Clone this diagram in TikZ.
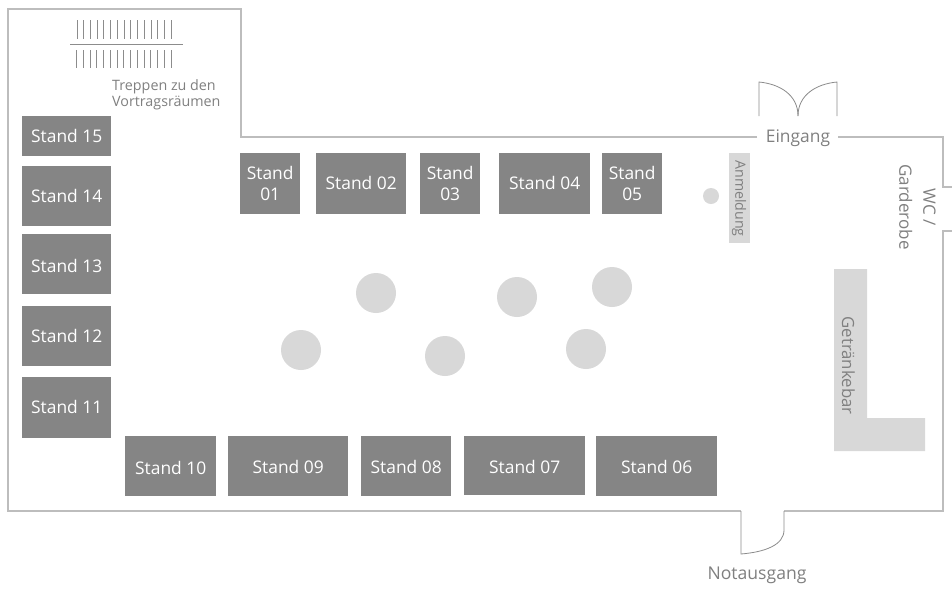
\documentclass[tikz,border=0pt]{standalone}
\usepackage{fontspec}
\setmainfont{Open Sans}
\definecolor{standgray}{HTML}{858585}
\definecolor{lightfill}{HTML}{D8D8D8}
\definecolor{wallgray}{HTML}{BDBDBD}
\definecolor{thin}{HTML}{8C8C8C}
\definecolor{labelgray}{HTML}{808080}
\tikzset{
  stand/.style={fill=standgray,text=white,font=\fontsize{17.4}{21.5}\selectfont,align=center,inner sep=0pt,anchor=north west},
  wall/.style={draw=wallgray,line width=1.5pt},
  thinline/.style={draw=thin,line width=0.8pt},
  tisch/.style={circle,fill=lightfill,inner sep=0pt},
  plabel/.style={text=labelgray,align=center,inner sep=0pt}
}
\newcommand{\standbox}[6]{\node[stand,minimum width=#3pt,minimum height=#4pt] (#5) at (#1,#2) {#6};}
\newcommand{\shifted}[2]{\raisebox{#1pt}[\height][\depth]{#2}}
\begin{document}
\begin{tikzpicture}[x=1pt,y=-1pt]
\useasboundingbox (0,0) rectangle (952,590);
\fill[white] (0,0) rectangle (952,590);
% walls
\draw[wall,line join=miter] (757,137) -- (241,137) -- (241,9) -- (8,9) -- (8,511) -- (741,511);
\draw[wall] (784,511) -- (943,511) -- (943,231) -- (952,231);
\draw[wall] (838,137) -- (943,137) -- (943,187) -- (952,187);
% doors
\draw[thinline] (759,116) -- (759,82) .. controls (780,84) and (798,95) .. (798,116);
\draw[thinline] (837,116) -- (837,82) .. controls (816,84) and (798,95) .. (798,116);
\draw[thinline] (741,511) -- (741,554) .. controls (765,552) and (784,545) .. (784,530) -- (784,511);
% stairs
\foreach \i in {0,...,14} {
  \draw[thinline] ({77+\i*6.72},20) -- ({77+\i*6.72},39);
  \draw[thinline] ({76.5+\i*6.76},50) -- ({76.5+\i*6.76},68);
}
\draw[thinline] (70,44) -- (183,44);
% stands
\standbox{22}{116}{89}{40}{s15}{\shifted{0.7}{Stand 15}}
\standbox{22}{166}{89}{60}{s14}{Stand 14}
\standbox{22}{234}{89}{60}{s13}{\shifted{-2}{Stand 13}}
\standbox{22}{306}{89}{60}{s12}{Stand 12}
\standbox{22}{377}{89}{61}{s11}{\shifted{0.7}{Stand 11}}
\standbox{125}{436}{91}{60}{s10}{\shifted{-2}{Stand 10}}
\standbox{228}{436}{120}{60}{s09}{\shifted{-1.2}{Stand 09}}
\standbox{361}{436}{90}{60}{s08}{\shifted{-1.2}{Stand 08}}
\standbox{464}{436}{121}{59}{s07}{\shifted{-1.2}{Stand 07}}
\standbox{596}{436}{121}{60}{s06}{\shifted{-1.2}{Stand 06}}
\standbox{240}{153}{60}{61}{s01}{Stand\\01}
\standbox{316}{153}{90}{61}{s02}{\shifted{0.7}{Stand 02}}
\standbox{420}{153}{60}{61}{s03}{Stand\\03}
\standbox{499}{153}{91}{61}{s04}{\shifted{0.7}{Stand 04}}
\standbox{602}{153}{60}{61}{s05}{Stand\\05}
% tables
\node[tisch,minimum size=40pt] (t1) at (301,350) {};
\node[tisch,minimum size=40pt] (t2) at (376,293) {};
\node[tisch,minimum size=40pt] (t3) at (445,356) {};
\node[tisch,minimum size=40pt] (t4) at (517,297) {};
\node[tisch,minimum size=40pt] (t5) at (586,349) {};
\node[tisch,minimum size=40pt] (t6) at (612,287) {};
\node[tisch,minimum size=16pt] (t7) at (711,196) {};
% Anmeldung
\node[fill=lightfill,minimum width=21pt,minimum height=90pt,inner sep=0pt,anchor=north west] (anm) at (729,153) {};
\node[plabel,rotate=-90,font=\fontsize{14.2}{16}\selectfont] (anmt) at (739,198.5) {Anmeldung};
% Bar
\fill[lightfill] (834,269) -- (867,269) -- (867,418) -- (925,418) -- (925,451) -- (834,451) -- cycle;
\node[plabel,rotate=-90,font=\fontsize{16.8}{18}\selectfont] (bar) at (848.5,365.5) {Getränkebar};
% labels
\node[plabel,font=\fontsize{14.3}{16.6}\selectfont,align=left,anchor=north west] (trep) at (112,79) {Treppen zu den\\Vortragsräumen};
\node[plabel,font=\fontsize{17.4}{20}\selectfont] (ein) at (798,138) {Eingang};
\node[plabel,rotate=-90,font=\fontsize{17}{24}\selectfont] (wc) at (917.5,207) {WC /\\Garderobe};
\node[plabel,font=\fontsize{17.6}{20}\selectfont] (not) at (757,575) {Notausgang};
\end{tikzpicture}
\end{document}
